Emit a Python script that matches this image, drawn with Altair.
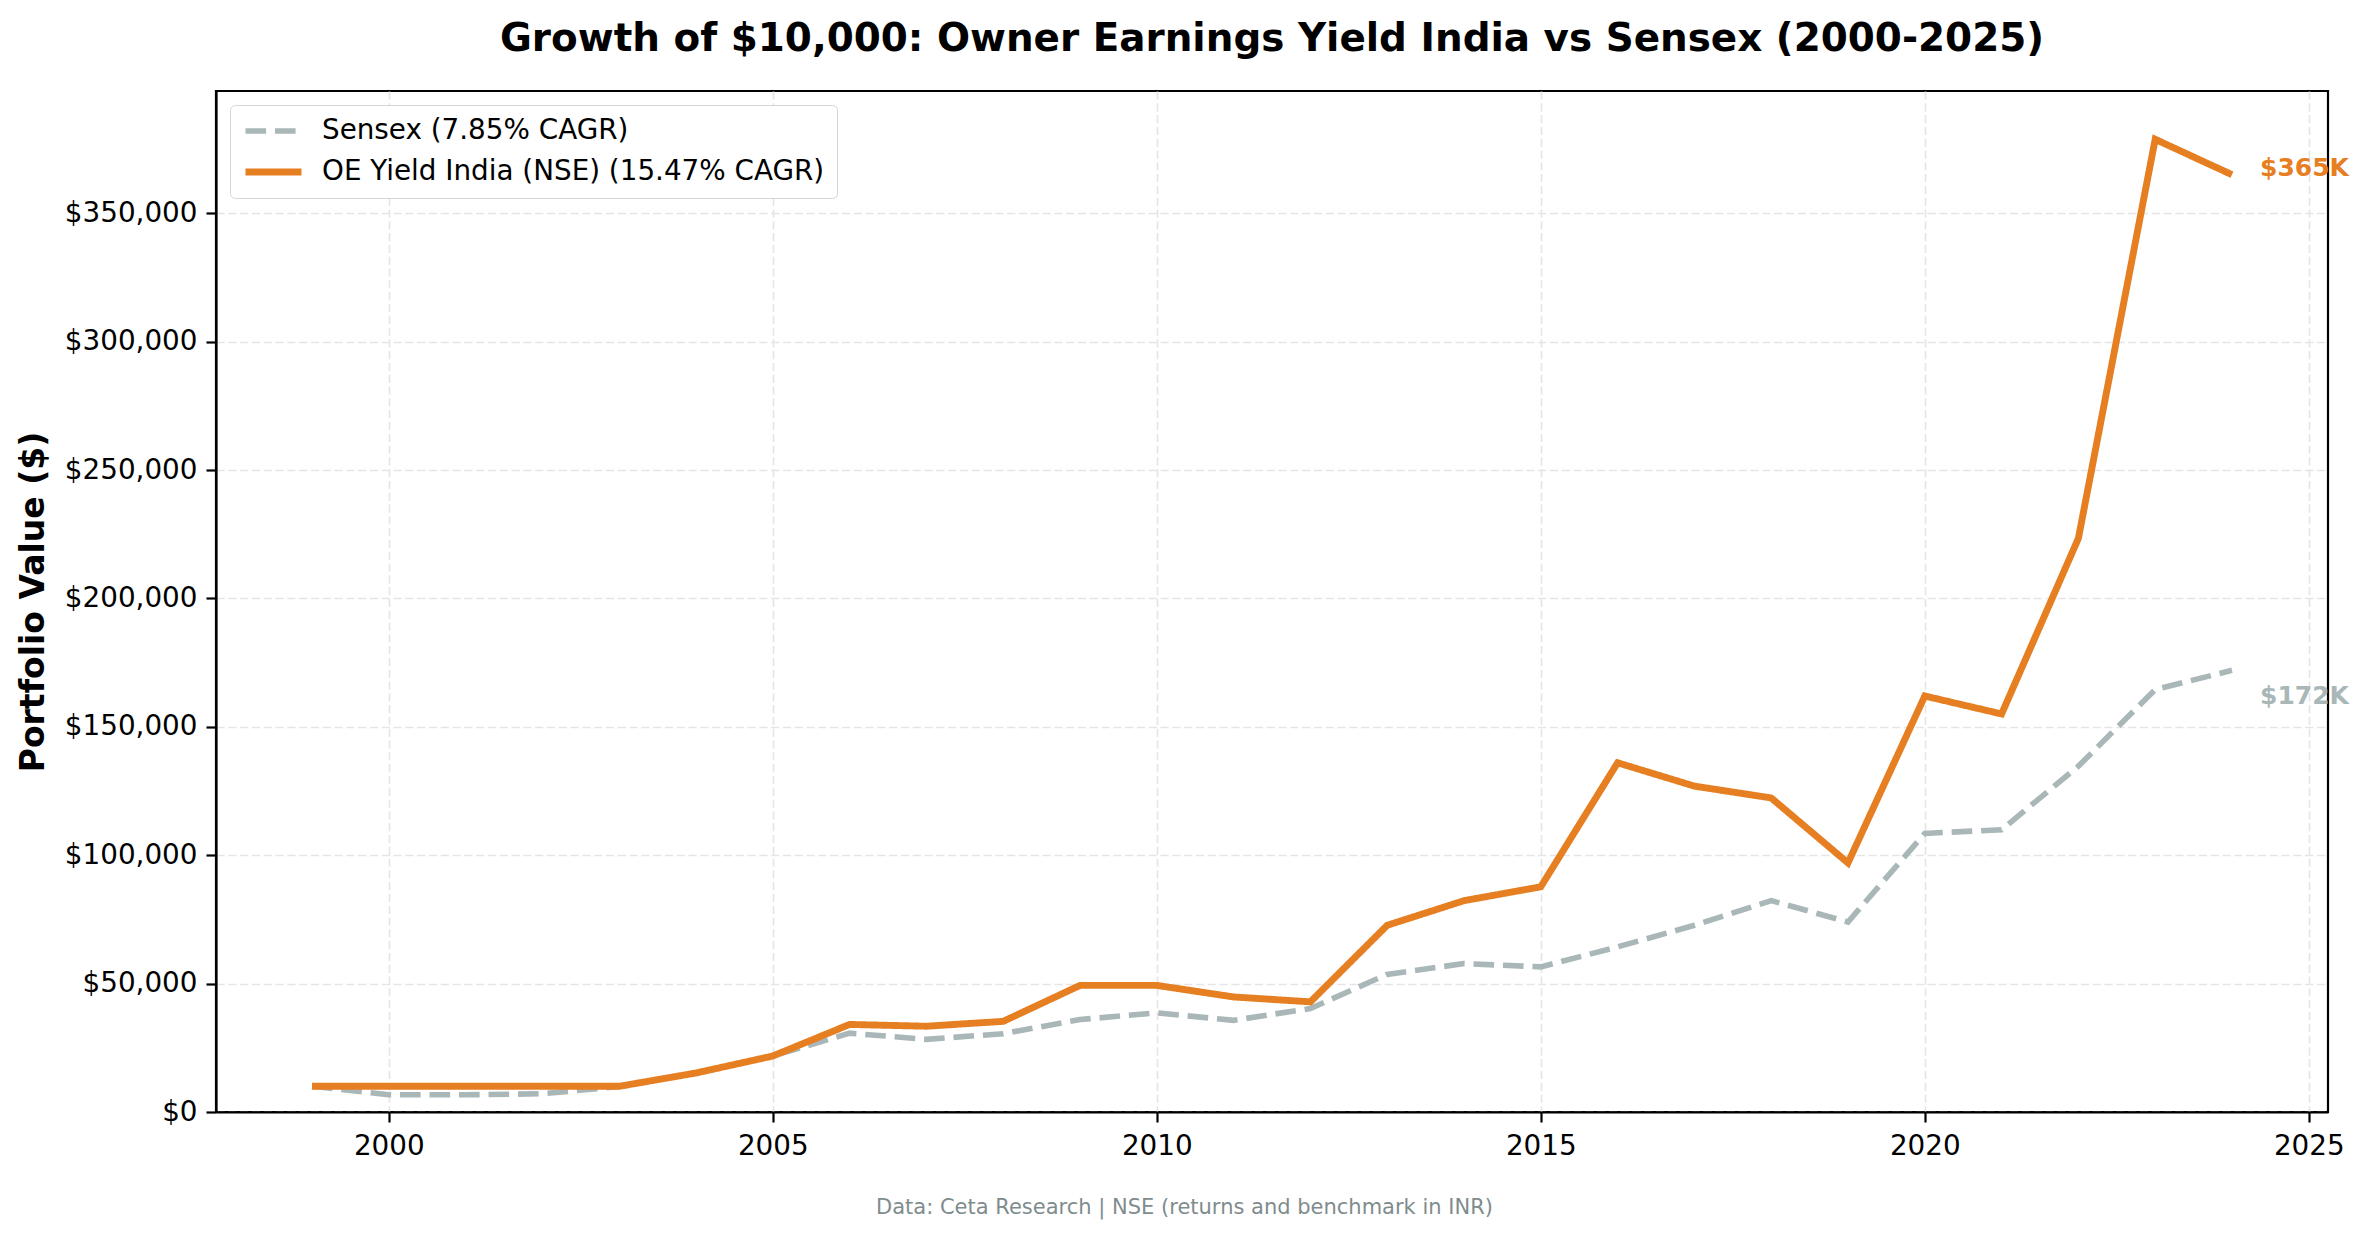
import altair as alt
import pandas as pd

years = list(range(1999, 2025))
sensex = [10000, 6700, 6700, 7100, 9900, 15200, 21800, 30700, 28300, 30500,
          36000, 38600, 35700, 40300, 53600, 57800, 56500, 64300, 72700, 82300,
          74000, 108500, 109900, 134700, 164500, 172000]
oe_yield = [10000, 10000, 10000, 10000, 10000, 15200, 21800, 34100, 33400, 35300,
            49300, 49300, 44800, 42900, 72700, 82300, 87700, 136000, 126900, 122300,
            97000, 162000, 155000, 223400, 378800, 365000]
series_names = ["Sensex (7.85% CAGR)", "OE Yield India (NSE) (15.47% CAGR)"]
series_colors = ["#aab7b8", "#e67e22"]

rows = []
for name, vals in zip(series_names, [sensex, oe_yield]):
    for y, v in zip(years, vals):
        rows.append({"year": y, "value": v, "series": name,
                     "label": f"${v/1000:.0f}K"})
df = pd.DataFrame(rows)

FONT = "DejaVu Sans"

color_scale = alt.Scale(domain=series_names, range=series_colors)
dash_scale = alt.Scale(domain=series_names, range=[[20.6, 8.9], [1, 0]])
width_scale = alt.Scale(domain=series_names, range=[5.6, 6.9])

x_enc = alt.X("year:Q",
              scale=alt.Scale(domain=[1997.75, 2025.25], nice=False, zero=False),
              axis=alt.Axis(values=[2000, 2005, 2010, 2015, 2020, 2025], format="d",
                            labelPadding=10,
                            title="Data: Ceta Research | NSE (returns and benchmark in INR)",
                            titleX=968, titleY=95, titleFontSize=21, titleFontWeight="normal",
                            titleColor="#7f8c8d", titleFont=FONT, titleBaseline="middle",
                            titleAlign="center"))
y_enc = alt.Y("value:Q",
              scale=alt.Scale(domain=[0, 397600], nice=False),
              axis=alt.Axis(values=[0, 50000, 100000, 150000, 200000, 250000, 300000, 350000],
                            format="$,.0f", title="Portfolio Value ($)", labelPadding=9,
                            titleFontSize=33, titleFontWeight="bold", titleFont=FONT,
                            titleColor="black", titleAngle=-90, titleX=-183, titleY=510.5,
                            titleBaseline="middle", titleAlign="center"))

legend = alt.Legend(orient="none", legendX=14, legendY=14, title=None,
                    symbolType="stroke", symbolSize=3136, clipHeight=28,
                    labelFont=FONT, labelFontSize=27.8, labelColor="black",
                    labelLimit=0, labelOffset=17, padding=12, rowPadding=13,
                    fillColor="white", strokeColor="#d5d5d5", cornerRadius=5)

base = alt.Chart(df).encode(
    x=x_enc,
    y=y_enc,
    color=alt.Color("series:N", scale=color_scale, legend=legend),
    strokeDash=alt.StrokeDash("series:N", scale=dash_scale, legend=legend),
    strokeWidth=alt.StrokeWidth("series:N", scale=width_scale, legend=legend),
)

sensex_line = base.transform_filter(alt.datum.series == series_names[0]).mark_line()
oe_line = base.transform_filter(alt.datum.series == series_names[1]).mark_line()

end_oe = alt.Chart(df).transform_filter(
    (alt.datum.series == series_names[1]) & (alt.datum.year == 2024)
).mark_text(align="left", baseline="middle", dx=28, dy=-7, font=FONT, fontSize=25,
            fontWeight="bold", color=series_colors[1]).encode(
    x="year:Q", y="value:Q", text="label:N")
end_sx = alt.Chart(df).transform_filter(
    (alt.datum.series == series_names[0]) & (alt.datum.year == 2024)
).mark_text(align="left", baseline="middle", dx=28, dy=26, font=FONT, fontSize=25,
            fontWeight="bold", color=series_colors[0]).encode(
    x="year:Q", y="value:Q", text="label:N")

chart = alt.layer(sensex_line, oe_line, end_oe, end_sx).properties(
    width=2112, height=1021,
    autosize=alt.AutoSizeParams(type="none"),
    padding={"left": 208, "top": 83, "right": 25, "bottom": 115},
    title=alt.TitleParams(
        text="Growth of $10,000: Owner Earnings Yield India vs Sensex (2000-2025)",
        font=FONT, fontSize=38.9, fontWeight="bold", color="black",
        anchor="middle", offset=32),
).configure_view(
    stroke="black", strokeWidth=2.2
).configure_axis(
    labelFont=FONT, labelFontSize=27.8, labelColor="black",
    domainColor="black", domainWidth=2.2,
    tickColor="black", tickWidth=2.2, tickSize=10,
    grid=True, gridColor="#e5e5e5", gridWidth=1.6, gridDash=[8.2, 3.6],
)

chart.save("out.html", embed_options={"renderer": "svg", "actions": False})
